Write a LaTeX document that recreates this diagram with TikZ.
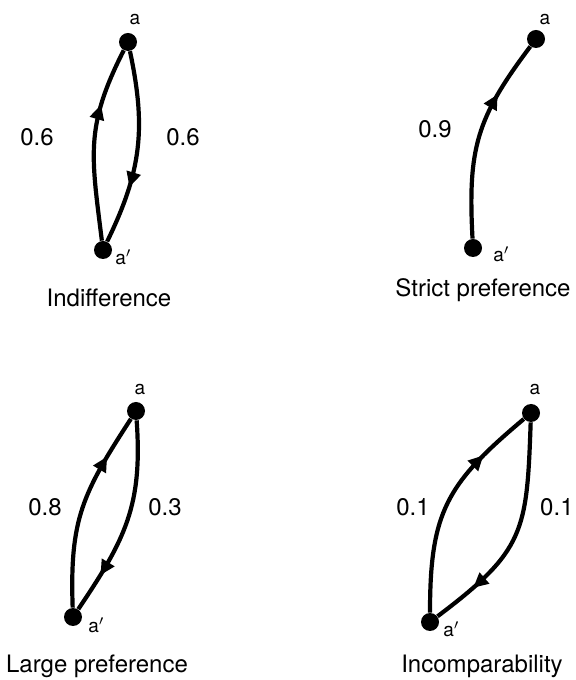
\documentclass[tikz,border=0pt]{standalone}
\usepackage{fontspec}
\setmainfont{TeX Gyre Heros}
\usetikzlibrary{arrows.meta,decorations.markings}

\begin{document}
\begin{tikzpicture}[x=0.5pt, y=0.5pt, every node/.style={font=\fontsize{12}{14}\selectfont},
	dot/.style={circle, fill, inner sep=0pt, minimum size=9pt},
	vlabel/.style={font=\fontsize{9.5}{11}\selectfont, inner sep=0pt},
	edge/.style={line width=2.1pt, postaction={decorate},
		decoration={markings, mark=at position #1 with {\arrow{Triangle[length=7.5pt,width=7pt]}}}}]
	\useasboundingbox (0,0) rectangle (576,680);
	% indifference
	\node[dot] (a1) at (128,638) {};
	\node[dot] (a1p) at (103,430) {};
	\draw[edge=0.7] (a1p) to[out=97, in=243, looseness=1.15] (a1);
	\draw[edge=0.7] (a1) to[out=282, in=64, looseness=1.05] (a1p);
	\node[vlabel] (la1) at (135,660) {a};
	\node[vlabel, anchor=base west] (la1p) at (115,415) {a$'$};
	\node (w1l) at (37,543) {0.6};
	\node (w1r) at (183,543) {0.6};
	\node[anchor=base] (c1) at (109,373) {Indifference};
	% strict preference
	\node[dot] (a2) at (536,641) {};
	\node[dot] (a2p) at (473,432) {};
	\draw[edge=0.72] (a2p) to[out=93, in=233, looseness=1.15] (a2);
	\node[vlabel] (la2) at (545,660) {a};
	\node[vlabel, anchor=base west] (la2p) at (493,418) {a$'$};
	\node (w2) at (435,551) {0.9};
	\node[anchor=base] (c2) at (483,383) {Strict preference};
	% large preference
	\node[dot] (a3) at (136,269) {};
	\node[dot] (a3p) at (73,63) {};
	\draw[edge=0.78] (a3p) to[out=92, in=237, looseness=1.15] (a3);
	\draw[edge=0.8] (a3) to[out=274, in=56, looseness=1.1] (a3p);
	\node[vlabel] (la3) at (140,290) {a};
	\node[vlabel, anchor=base west] (la3p) at (88,47) {a$'$};
	\node (w3l) at (45,173) {0.8};
	\node (w3r) at (165,173) {0.3};
	\node[anchor=base] (c3) at (97,8) {Large preference};
	% incomparability
	\node[dot] (a4) at (531,267) {};
	\node[dot] (a4p) at (430,58) {};
	\draw[edge=0.76] (a4p) to[out=90, in=220, looseness=1.2] (a4);
	\draw[edge=0.8] (a4) to[out=268, in=37, looseness=1.3] (a4p);
	\node[vlabel] (la4) at (535,290) {a};
	\node[vlabel, anchor=base west] (la4p) at (443,43) {a$'$};
	\node (w4l) at (413,173) {0.1};
	\node[anchor=east, inner sep=1pt] (w4r) at (576,173) {0.1};
	\node[anchor=base] (c4) at (482,8) {Incomparability};
\end{tikzpicture}
\end{document}
